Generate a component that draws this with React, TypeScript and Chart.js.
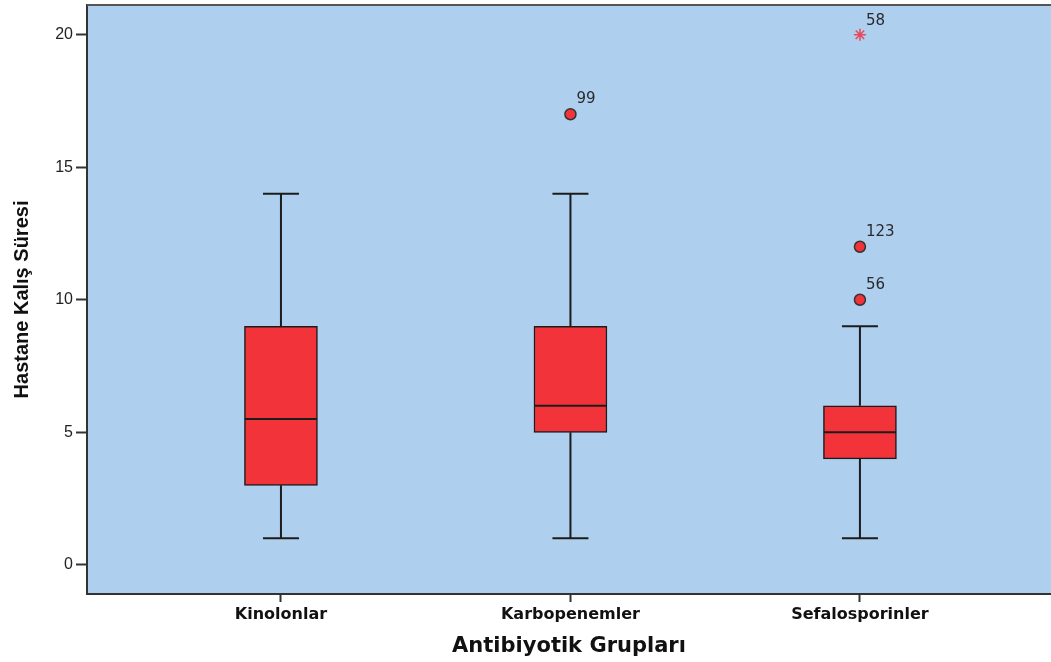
import React, { useEffect, useRef } from "react";
import { Chart, registerables } from "chart.js";

Chart.register(...registerables);

const categories = ["Kinolonlar", "Karbopenemler", "Sefalosporinler"];
const mins = [1, 1, 1];
const q1s = [3, 5, 4];
const medians = [5.5, 6, 5];
const q3s = [9, 9, 6];
const maxs = [14, 14, 9];

const outlierGroups = [1, 2, 2];
const outlierValues = [17, 12, 10];
const outlierLabels = ["99", "123", "56"];

const extremeGroups = [2];
const extremeValues = [20];
const extremeLabels = ["58"];

const yTicks = [0, 5, 10, 15, 20];

const BOX_FILL = "#F2333A";
const DARK = "#1c1c1c";
const BG = "#AECFEE";

const boxPlugin = {
  id: "boxParts",
  beforeDraw(chart: any) {
    const { ctx, chartArea } = chart;
    ctx.save();
    ctx.fillStyle = BG;
    ctx.fillRect(chartArea.left, chartArea.top, chartArea.right - chartArea.left, chartArea.bottom - chartArea.top);
    ctx.restore();
  },
  beforeDatasetsDraw(chart: any) {
    const { ctx } = chart;
    const xs = chart.scales.x;
    const ys = chart.scales.y;
    ctx.save();
    ctx.strokeStyle = DARK;
    ctx.lineWidth = 2;
    categories.forEach((_, i) => {
      const cx = xs.getPixelForValue(i);
      const capHalf = 18;
      const yMin = ys.getPixelForValue(mins[i]);
      const yMax = ys.getPixelForValue(maxs[i]);
      const yQ1 = ys.getPixelForValue(q1s[i]);
      const yQ3 = ys.getPixelForValue(q3s[i]);
      ctx.beginPath();
      ctx.moveTo(cx, yMin);
      ctx.lineTo(cx, yQ1);
      ctx.moveTo(cx, yQ3);
      ctx.lineTo(cx, yMax);
      ctx.moveTo(cx - capHalf, yMin);
      ctx.lineTo(cx + capHalf, yMin);
      ctx.moveTo(cx - capHalf, yMax);
      ctx.lineTo(cx + capHalf, yMax);
      ctx.stroke();
    });
    ctx.restore();
  },
  afterDatasetsDraw(chart: any) {
    const { ctx, chartArea } = chart;
    const xs = chart.scales.x;
    const ys = chart.scales.y;
    ctx.save();
    ctx.strokeStyle = DARK;
    ctx.lineWidth = 2;
    categories.forEach((_, i) => {
      const cx = xs.getPixelForValue(i);
      const y = ys.getPixelForValue(medians[i]);
      ctx.beginPath();
      ctx.moveTo(cx - 36, y);
      ctx.lineTo(cx + 36, y);
      ctx.stroke();
    });
    ctx.fillStyle = "#2a2a2a";
    ctx.font = "15px 'DejaVu Sans', Verdana, sans-serif";
    ctx.textAlign = "left";
    ctx.textBaseline = "middle";
    outlierGroups.forEach((g, i) => {
      const px = xs.getPixelForValue(g);
      const py = ys.getPixelForValue(outlierValues[i]);
      ctx.fillText(outlierLabels[i], px + 6, py - 15);
    });
    extremeGroups.forEach((g, i) => {
      const px = xs.getPixelForValue(g);
      const py = ys.getPixelForValue(extremeValues[i]);
      ctx.fillText(extremeLabels[i], px + 6, py - 14);
    });
    // top border
    ctx.strokeStyle = "#555";
    ctx.lineWidth = 2;
    ctx.beginPath();
    ctx.moveTo(chartArea.left, chartArea.top);
    ctx.lineTo(chartArea.right, chartArea.top);
    ctx.stroke();
    ctx.restore();
  },
};

export default function App() {
  const ref = useRef<HTMLCanvasElement | null>(null);
  useEffect(() => {
    if (!ref.current) return;
    const chart = new Chart(ref.current, {
      type: "bar",
      data: {
        datasets: [
          {
            type: "bar",
            data: categories.map((_, i) => ({ x: i, y: [q1s[i], q3s[i]] })) as any,
            backgroundColor: BOX_FILL,
            borderColor: DARK,
            borderWidth: 1.5,
            borderSkipped: false,
            barThickness: 73,
          } as any,
          {
            type: "scatter",
            data: outlierGroups.map((g, i) => ({ x: g, y: outlierValues[i] })),
            pointStyle: "circle",
            pointRadius: 5.5,
            backgroundColor: BOX_FILL,
            borderColor: "#333",
            borderWidth: 1.5,
          } as any,
          {
            type: "scatter",
            data: extremeGroups.map((g, i) => ({ x: g, y: extremeValues[i] })),
            pointStyle: "star",
            pointRadius: 6,
            backgroundColor: "#E8485A",
            borderColor: "#E8485A",
            borderWidth: 1.5,
          } as any,
        ],
      },
      options: {
        responsive: false,
        animation: false,
        layout: { autoPadding: false, padding: { top: 5, right: 0, left: 0, bottom: 0 } },
        plugins: { legend: { display: false }, tooltip: { enabled: false } },
        scales: {
          x: {
            type: "linear",
            offset: false,
            min: -0.67,
            max: 2.66,
            afterBuildTicks: (s: any) => {
              s.ticks = categories.map((_, i) => ({ value: i }));
            },
            afterFit: (s: any) => {
              s.height = 68;
              s.paddingLeft = 0;
              s.paddingRight = 0;
            },
            ticks: {
              autoSkip: false,
              maxRotation: 0,
              padding: 3,
              color: "#111",
              font: { family: "'DejaVu Sans', Verdana, sans-serif", size: 16, weight: "bold" },
              callback: (v: any) => categories[v] ?? "",
            },
            grid: { offset: false, drawOnChartArea: false, tickLength: 8, tickColor: "#333", tickWidth: 2 },
            border: { color: "#333", width: 2 },
            title: {
              display: true,
              text: "Antibiyotik Grupları",
              color: "#111",
              font: { family: "'DejaVu Sans', Verdana, sans-serif", size: 21, weight: "bold" },
              padding: { top: 0, bottom: 3 },
            },
          },
          y: {
            type: "linear",
            min: -1.1,
            max: 21.12,
            afterBuildTicks: (s: any) => {
              s.ticks = yTicks.map((v) => ({ value: v }));
            },
            afterFit: (s: any) => {
              s.width = 87;
              s.paddingTop = 0;
              s.paddingBottom = 0;
            },
            ticks: {
              padding: 3,
              color: "#222",
              font: { family: "'Liberation Sans', Arial, sans-serif", size: 16 },
            },
            grid: { drawOnChartArea: false, tickLength: 11, tickColor: "#333", tickWidth: 2 },
            border: { color: "#333", width: 2 },
            title: {
              display: true,
              text: "Hastane Kalış Süresi",
              color: "#111",
              font: { family: "'Liberation Sans Narrow', 'Liberation Sans', Arial, sans-serif", size: 20, weight: "bold" },
              padding: { top: 10, bottom: 0 },
            },
          },
        },
      },
      plugins: [boxPlugin],
    });
    return () => chart.destroy();
  }, []);
  return (
    <div style={{ position: "absolute", left: 0, top: 0, width: 1051, height: 662, background: "#fff" }}>
      <canvas ref={ref} width={1051} height={662} style={{ display: "block" }} />
    </div>
  );
}
